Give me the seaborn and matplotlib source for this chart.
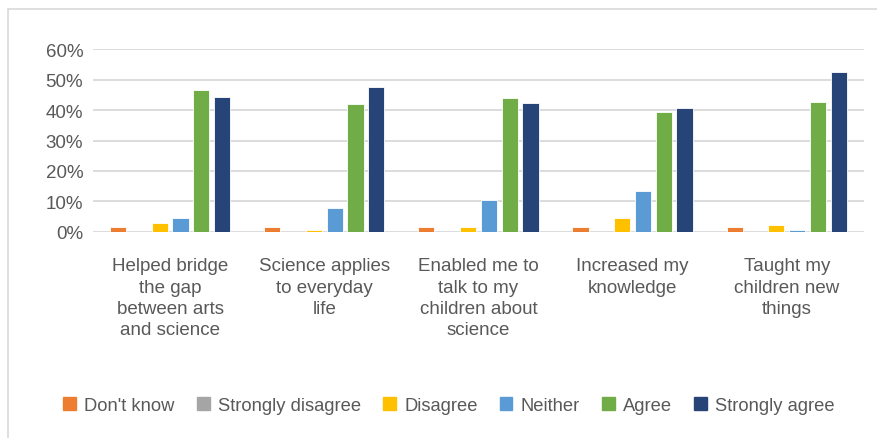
import numpy as np
import pandas as pd
import matplotlib
matplotlib.use("Agg")
import matplotlib.pyplot as plt
from matplotlib.patches import Rectangle
import seaborn as sns

categories = [
    "Helped bridge\nthe gap\nbetween arts\nand science",
    "Science applies\nto everyday\nlife",
    "Enabled me to\ntalk to my\nchildren about\nscience",
    "Increased my\nknowledge",
    "Taught my\nchildren new\nthings",
]
responses = ["Don't know", "Strongly disagree", "Disagree", "Neither", "Agree", "Strongly agree"]

dont_know = [1.4, 1.4, 1.4, 1.4, 1.4]
strongly_disagree = [0.0, 0.0, 0.0, 0.0, 0.0]
disagree = [2.9, 0.6, 1.4, 4.6, 2.2]
neither = [4.4, 7.9, 10.5, 13.3, 0.7]
agree = [46.6, 41.9, 43.9, 39.3, 42.6]
strongly_agree = [44.4, 47.8, 42.3, 40.8, 52.6]

colors = ["#ED7D31", "#A5A5A5", "#FFC000", "#5B9BD5", "#70AD47", "#264478"]

series = [dont_know, strongly_disagree, disagree, neither, agree, strongly_agree]
rows = []
for resp, vals in zip(responses, series):
    for cat, v in zip(categories, vals):
        rows.append({"category": cat, "response": resp, "value": v / 100})
df = pd.DataFrame(rows)

sns.set_style("white")
plt.rcParams["font.family"] = ["Liberation Sans", "DejaVu Sans"]
text_color = "#595959"
grid_color = "#D9D9D9"

fig = plt.figure(figsize=(8.77, 4.39), dpi=100)
ax = fig.add_axes([0.106, 0.470, 0.879, 0.415])

sns.barplot(data=df, x="category", y="value", hue="response",
            hue_order=responses, order=categories, palette=colors,
            saturation=1, width=0.81, gap=0.22, ax=ax, legend=True,
            edgecolor="white", linewidth=0.6)

ax.set_ylim(0, 0.6)
ax.set_yticks(np.arange(0, 0.61, 0.1))
ax.set_yticklabels([f"{int(round(t * 100))}%" for t in np.arange(0, 0.61, 0.1)])
ax.yaxis.grid(True, color=grid_color, linewidth=1.3)
ax.set_axisbelow(True)
for s in ax.spines.values():
    s.set_visible(False)
ax.tick_params(axis="both", length=0, labelcolor=text_color)
ax.tick_params(axis="x", pad=18.5, labelsize=13.5)
ax.tick_params(axis="y", pad=7, labelsize=13.5)
for lbl in ax.get_xticklabels():
    lbl.set_linespacing(1.32)
ax.set_xlabel("")
ax.set_ylabel("")

ax.legend_.remove()
handles = [Rectangle((0, 0), 1, 1, color=c) for c in colors]
fig.legend(handles, responses, loc="center", bbox_to_anchor=(0.512, 0.075),
           ncol=6, frameon=False, fontsize=13.2, handlelength=0.7, handleheight=0.7,
           handletextpad=0.45, columnspacing=1.2, labelcolor=text_color)

fig.patches.append(Rectangle((8 / 877, -0.1), 1.1, 0.977 + 0.1,
                             transform=fig.transFigure, fill=False,
                             edgecolor=grid_color, linewidth=1.2))

fig.savefig("out.png", dpi=100)
